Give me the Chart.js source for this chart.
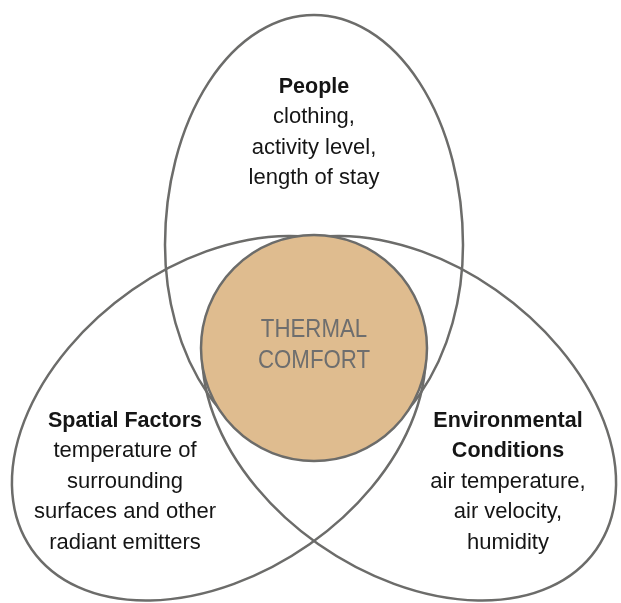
<!DOCTYPE html>
<html>
<head>
<meta charset="utf-8">
<script src="https://cdn.jsdelivr.net/npm/chart.js@4"></script>
<style>
    body { margin: 0; background: #ffffff; }
    #wrap { width: 621px; height: 603px; }
</style>
</head>
<body>
<div id="wrap"><canvas id="vennChart" width="621" height="603"></canvas></div>
<script>
// diagram content
const groups = ['People', 'Spatial Factors', 'Environmental Conditions']
const groupTitles = [['People'], ['Spatial Factors'], ['Environmental', 'Conditions']]
const groupFactors = [
    ['clothing,', 'activity level,', 'length of stay'],
    ['temperature of', 'surrounding', 'surfaces and other', 'radiant emitters'],
    ['air temperature,', 'air velocity,', 'humidity']
]
const centerLabel = ['THERMAL', 'COMFORT']

// geometry in chart units (x 0..621, y 0..603 downwards)
// each group is an egg: far half-axis, near half-axis, width, direction of the far end
const shapes = [
    {cx: 314, cy: 245, far: 230, near: 212, half: 149, rot: -90},
    {cx: 221, cy: 417, far: 231, near: 225, half: 155, rot: 145},
    {cx: 407, cy: 417, far: 231, near: 225, half: 155, rot: 35}
]
const core = {cx: 314, cy: 348, r: 113}
const textBlocks = [
    {x: 314, y: 93},
    {x: 125, y: 427},
    {x: 508, y: 427}
]
const lineGap = 30.4

const lineColor = 'rgb(108, 108, 106)'
const coreFill = 'rgb(223, 188, 143)'

const vennPlugin = {
    id: 'venn',
    afterDatasetsDraw(chart) {
        const ctx = chart.ctx
        const xs = chart.scales.x
        const ys = chart.scales.y
        const px = v => xs.getPixelForValue(v)
        const py = v => ys.getPixelForValue(v)
        const len = v => px(v) - px(0)

        ctx.save()
        ctx.lineWidth = 2.5
        ctx.strokeStyle = lineColor
        shapes.forEach(s => {
            const r = s.rot * Math.PI / 180
            ctx.beginPath()
            ctx.ellipse(px(s.cx), py(s.cy), len(s.far), len(s.half), r, -Math.PI / 2, Math.PI / 2)
            ctx.ellipse(px(s.cx), py(s.cy), len(s.near), len(s.half), r, Math.PI / 2, Math.PI * 1.5)
            ctx.closePath()
            ctx.stroke()
        })

        ctx.beginPath()
        ctx.arc(px(core.cx), py(core.cy), len(core.r), 0, Math.PI * 2)
        ctx.fillStyle = coreFill
        ctx.fill()
        ctx.stroke()

        ctx.textAlign = 'center'
        ctx.textBaseline = 'alphabetic'

        // condensed look for the centre words
        ctx.fillStyle = 'rgb(110, 110, 110)'
        ctx.font = '26.5px "Liberation Sans", Arial, sans-serif'
        centerLabel.forEach((t, i) => {
            ctx.save()
            ctx.translate(px(core.cx), py(337 + i * 30.5))
            ctx.scale(0.84, 1)
            ctx.fillText(t, 0, 0)
            ctx.restore()
        })

        ctx.fillStyle = '#151515'
        groups.forEach((g, i) => {
            let y = textBlocks[i].y
            ctx.font = 'bold 21.5px "Liberation Sans", Arial, sans-serif'
            groupTitles[i].forEach(t => {
                ctx.fillText(t, px(textBlocks[i].x), py(y))
                y += lineGap
            })
            ctx.font = '22px "Liberation Sans", Arial, sans-serif'
            groupFactors[i].forEach(t => {
                ctx.fillText(t, px(textBlocks[i].x), py(y))
                y += lineGap
            })
        })
        ctx.restore()
    }
}

const data = {
    datasets: [{
        label: 'Thermal comfort',
        data: shapes.map(s => ({x: s.cx, y: s.cy})).concat([{x: core.cx, y: core.cy}]),
        pointRadius: 0,
        showLine: false
    }]
}

const config = {
    type: 'scatter',
    data: data,
    options: {
        responsive: false,
        animation: false,
        layout: { padding: 0 },
        scales: {
            x: { type: 'linear', min: 0, max: 621, display: false },
            y: { type: 'linear', min: 0, max: 603, reverse: true, display: false }
        },
        plugins: {
            legend: { display: false },
            tooltip: { enabled: false }
        }
    },
    plugins: [vennPlugin]
}

const vennChart = new Chart(document.getElementById('vennChart'), config)
</script>
</body>
</html>
